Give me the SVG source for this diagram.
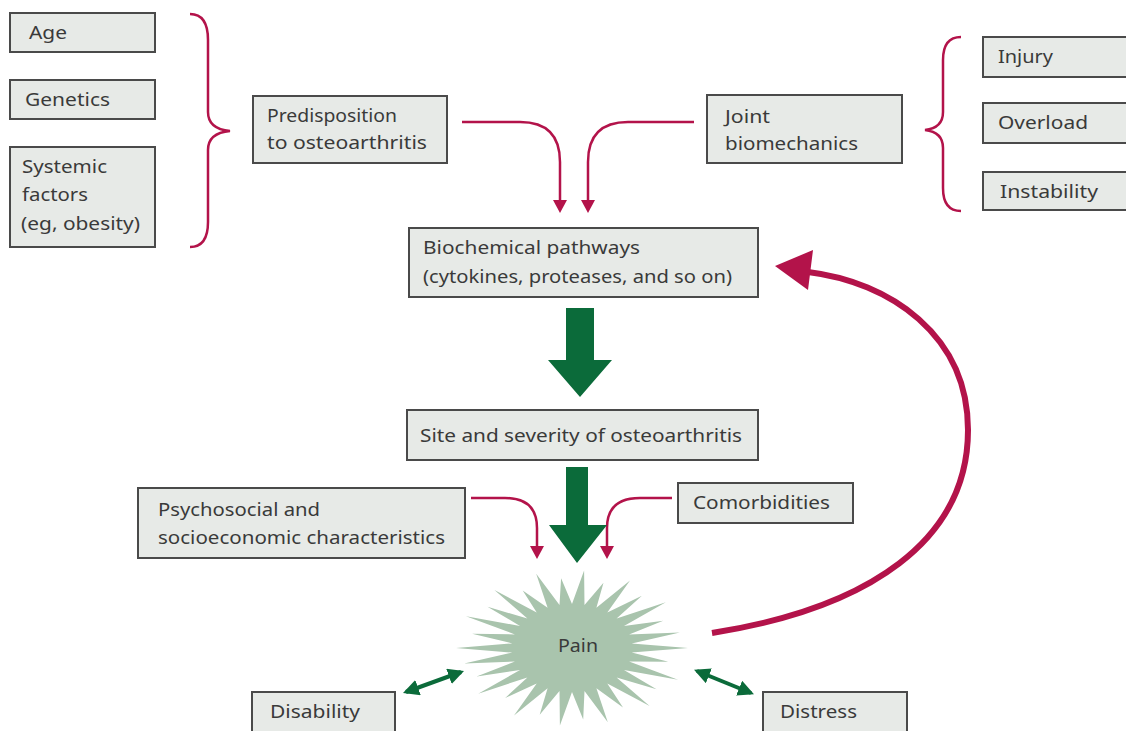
<svg xmlns="http://www.w3.org/2000/svg" width="1126" height="731" viewBox="0 0 1126 731">
<style>
.box{fill:#e7eae7;stroke:#4a4a4a;stroke-width:2}
.t{font-family:"Noto Sans","Open Sans",sans-serif;font-size:18px;fill:#3a3a3a}
.red{fill:none;stroke:#b3134a;stroke-width:2.5}
.redf{fill:#b3134a}
.grn{fill:#0b6b3a}
.dbl{stroke:#0b6b3a;stroke-width:4;fill:none}
</style>
<defs>
<marker id="gh" viewBox="0 0 10 10" refX="8" refY="5" markerWidth="4" markerHeight="4" orient="auto-start-reverse"><path d="M0,0 L10,5 L0,10 Z" fill="#0b6b3a"/></marker>
</defs>
<rect width="1126" height="731" fill="#ffffff"/>

<g id="age"><rect class="box" x="10" y="13" width="145" height="39"/><text class="t" x="29" y="39" textLength="38" lengthAdjust="spacingAndGlyphs">Age</text></g>
<g id="genetics"><rect class="box" x="10" y="80" width="145" height="39"/><text class="t" x="25" y="106" textLength="85" lengthAdjust="spacingAndGlyphs">Genetics</text></g>
<g id="systemic"><rect class="box" x="10" y="147" width="145" height="100"/><text class="t" x="22" y="173" textLength="85" lengthAdjust="spacingAndGlyphs">Systemic</text><text class="t" x="22" y="201" textLength="66" lengthAdjust="spacingAndGlyphs">factors</text><text class="t" x="21" y="230" textLength="119" lengthAdjust="spacingAndGlyphs">(eg, obesity)</text></g>
<g id="predisposition"><rect class="box" x="253" y="96" width="194" height="67"/><text class="t" x="267" y="122" textLength="130" lengthAdjust="spacingAndGlyphs">Predisposition</text><text class="t" x="267" y="149" textLength="160" lengthAdjust="spacingAndGlyphs">to osteoarthritis</text></g>
<g id="joint"><rect class="box" x="707" y="95" width="195" height="68"/><text class="t" x="725" y="123" textLength="45" lengthAdjust="spacingAndGlyphs">Joint</text><text class="t" x="725" y="150" textLength="133" lengthAdjust="spacingAndGlyphs">biomechanics</text></g>
<g id="injury"><rect class="box" x="983" y="37" width="150" height="40"/><text class="t" x="998" y="63" textLength="55" lengthAdjust="spacingAndGlyphs">Injury</text></g>
<g id="overload"><rect class="box" x="983" y="103" width="150" height="40"/><text class="t" x="998" y="129" textLength="90" lengthAdjust="spacingAndGlyphs">Overload</text></g>
<g id="instability"><rect class="box" x="983" y="172" width="150" height="38"/><text class="t" x="1000" y="198" textLength="98" lengthAdjust="spacingAndGlyphs">Instability</text></g>
<g id="biochemical"><rect class="box" x="409" y="228" width="349" height="69"/><text class="t" x="423" y="254" textLength="217" lengthAdjust="spacingAndGlyphs">Biochemical pathways</text><text class="t" x="423" y="283" textLength="309" lengthAdjust="spacingAndGlyphs">(cytokines, proteases, and so on)</text></g>
<g id="site"><rect class="box" x="407" y="410" width="351" height="50"/><text class="t" x="420" y="442" textLength="322" lengthAdjust="spacingAndGlyphs">Site and severity of osteoarthritis</text></g>
<g id="psychosocial"><rect class="box" x="138" y="488" width="327" height="70"/><text class="t" x="158" y="516" textLength="162" lengthAdjust="spacingAndGlyphs">Psychosocial and</text><text class="t" x="158" y="544" textLength="287" lengthAdjust="spacingAndGlyphs">socioeconomic characteristics</text></g>
<g id="comorbidities"><rect class="box" x="678" y="483" width="175" height="40"/><text class="t" x="693" y="509" textLength="137" lengthAdjust="spacingAndGlyphs">Comorbidities</text></g>
<g id="pain">
<polygon fill="#a9c4ad" points="688,648 631.7,652.6 668.4,661.8 629.1,661.6 678,679.7 624,670 656.5,689.3 616.6,677.4 649.6,706 607.3,683.6 623,707.4 596.4,688.2 607.8,722.2 584.5,691 583.2,719.4 572,692 559.9,725.6 559.5,691 539.7,714.8 547.6,688.2 514,715.5 536.7,683.6 505.2,697.9 527.4,677.4 478.2,693.8 520,670 476.6,676.6 514.9,661.6 464.2,663.4 512.3,652.6 456,648 512.3,643.4 472.1,633.7 514.9,634.4 466,616.3 520,626 487.5,606.7 527.4,618.6 494.4,590 536.7,612.4 522.7,590.6 547.6,607.8 536.2,573.8 559.5,605 561.1,578.2 572,604 584.1,570.4 584.5,605 603.5,582.8 596.4,607.8 630,580.5 607.3,612.4 641.9,595.8 616.6,618.6 665.8,602.2 624,626 663.2,620.7 629.1,634.4 679.8,632.6 631.7,643.4"/>
<text class="t" x="558" y="652" textLength="40" lengthAdjust="spacingAndGlyphs">Pain</text>
</g>
<g id="disability"><rect class="box" x="252" y="692" width="143" height="45"/><text class="t" x="270" y="718" textLength="90" lengthAdjust="spacingAndGlyphs">Disability</text></g>
<g id="distress"><rect class="box" x="763" y="692" width="144" height="45"/><text class="t" x="780" y="718" textLength="77" lengthAdjust="spacingAndGlyphs">Distress</text></g>

<g id="connectors">
<path class="red" d="M190,14 Q208,14 208,40 L208,112 Q208,129 230,131 Q208,133 208,150 L208,222 Q208,247 190,247"/>
<path class="red" d="M961,37 Q943,37 943,60 L943,112 Q943,128 925,130 Q943,132 943,148 L943,188 Q943,211 961,211"/>
<path class="red" d="M462,122 L520,122 Q560,122 560,162 L560,202"/>
<polygon class="redf" points="553,200 567,200 560,213"/>
<path class="red" d="M694,122 L628,122 Q588,122 588,162 L588,202"/>
<polygon class="redf" points="581,200 595,200 588,213"/>
<path class="red" d="M471,498 L505,498 Q537,498 537,528 L537,548"/>
<polygon class="redf" points="530,546 544,546 537,559"/>
<path class="red" d="M672,498 L640,498 Q607,498 607,528 L607,548"/>
<polygon class="redf" points="600,546 614,546 607,559"/>
<polygon class="grn" points="566,308 594,308 594,360 612,360 580,397 548,360 566,360"/>
<polygon class="grn" points="566,467 588,467 588,525 607,525 577,563 549,525 566,525"/>
<path d="M712,633 C870,608 968,540 968,430 C968,335 890,282 808,272" fill="none" stroke="#b3134a" stroke-width="6"/>
<polygon class="redf" points="775,266 813,250 808,290"/>
<line class="dbl" x1="406" y1="692" x2="461" y2="672" marker-start="url(#gh)" marker-end="url(#gh)"/>
<line class="dbl" x1="697" y1="671" x2="751" y2="693" marker-start="url(#gh)" marker-end="url(#gh)"/>
</g>
</svg>
